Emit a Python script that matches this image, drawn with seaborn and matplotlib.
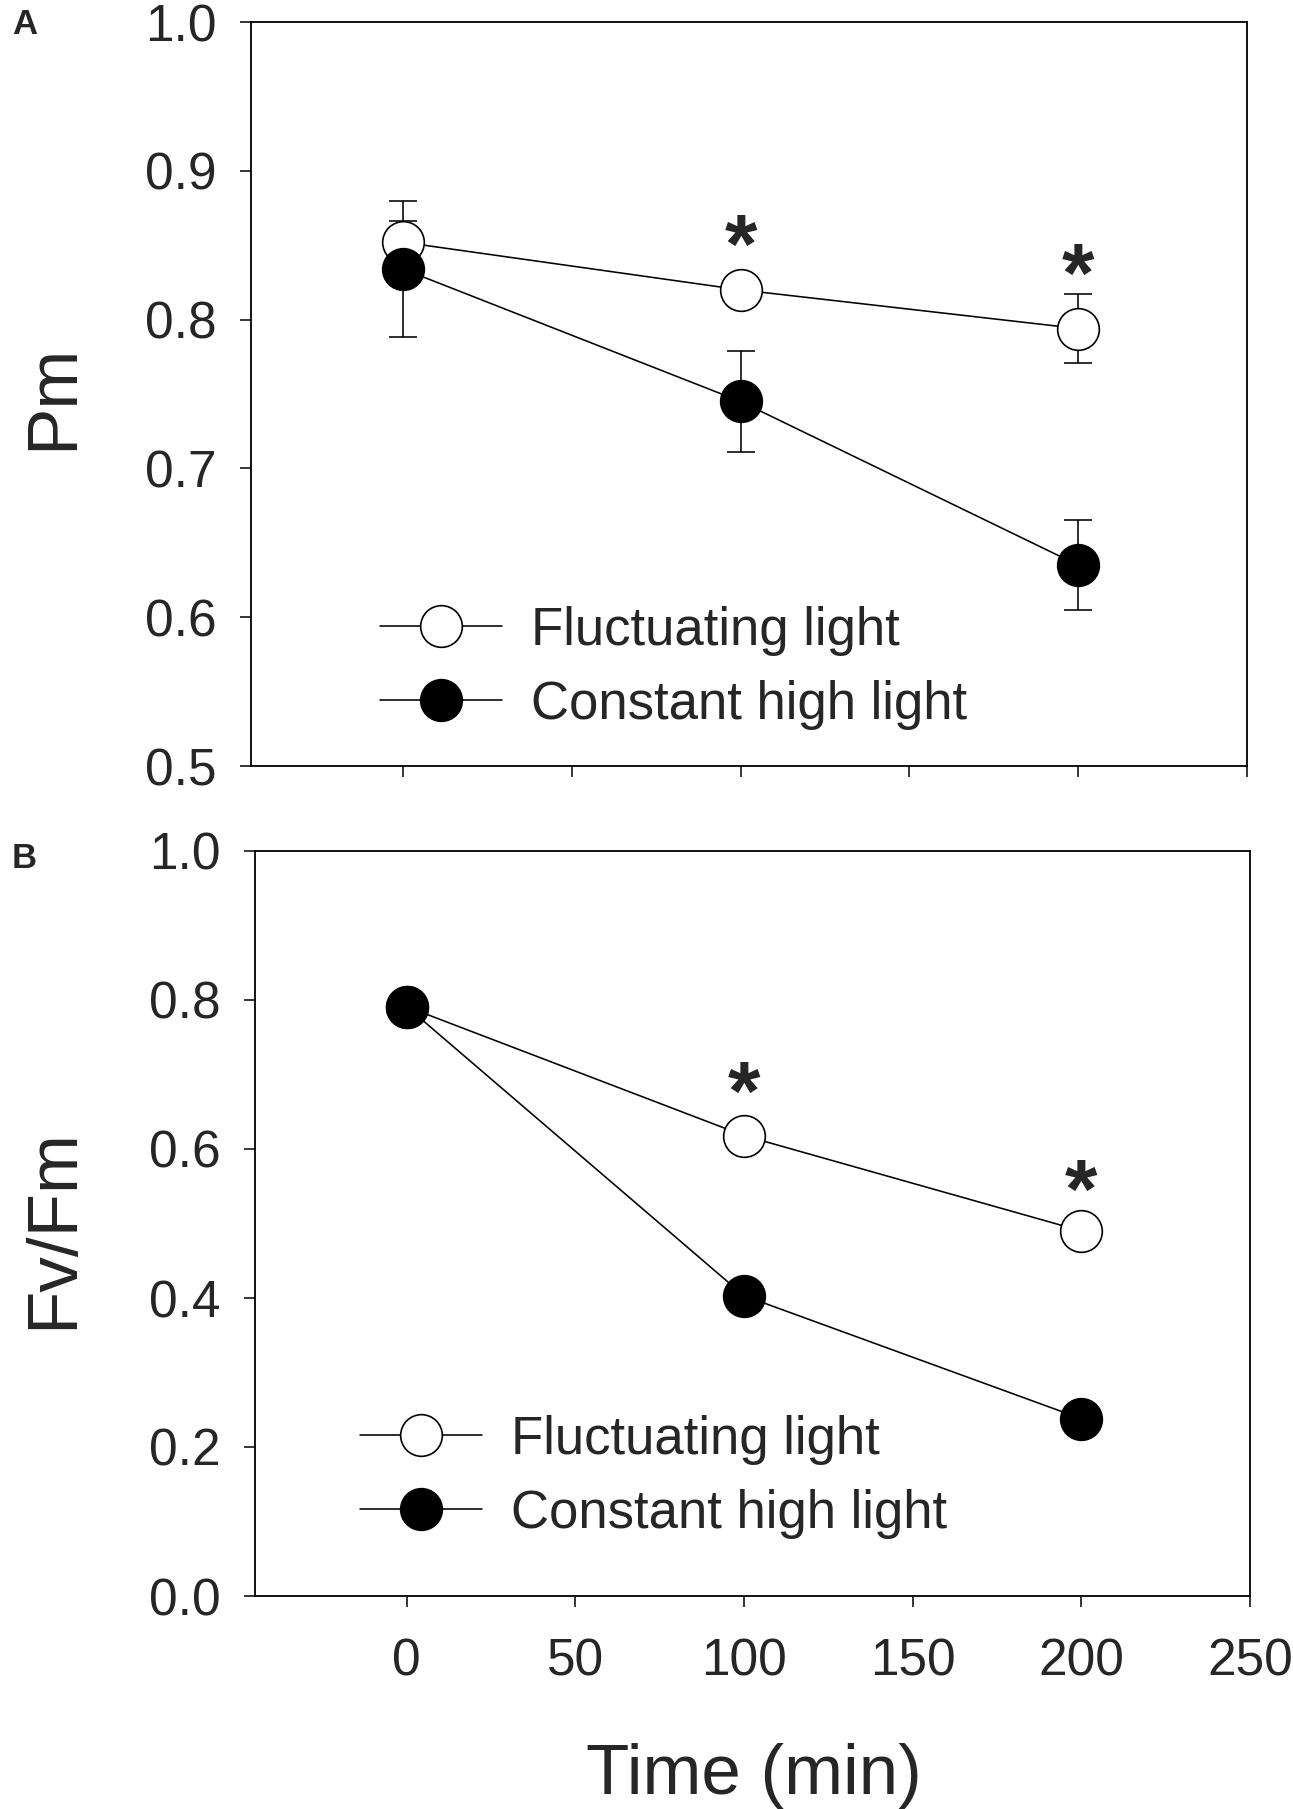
import numpy as np
import pandas as pd
import matplotlib
matplotlib.use("Agg")
import matplotlib.pyplot as plt
import seaborn as sns
from matplotlib.lines import Line2D

# --- data ---
time = [0, 100, 200]

pm_fluct = [0.852, 0.820, 0.794]
pm_fluct_err = [0.014, 0.006, 0.023]
pm_const = [0.834, 0.745, 0.635]
pm_const_err = [0.046, 0.034, 0.030]

fvfm_fluct = [0.791, 0.618, 0.490]
fvfm_const = [0.791, 0.403, 0.238]

# asterisk positions (time, value)
pm_star_x = [100, 200]
pm_star_y = [0.846, 0.827]
fvfm_star_x = [100, 200]
fvfm_star_y = [0.668, 0.537]

series_names = ["Fluctuating light", "Constant high light"]
x_ticks = [0, 50, 100, 150, 200, 250]

sns.set_style("ticks")
plt.rcParams['font.family'] = ['Liberation Sans', 'DejaVu Sans']

W, H = 1293, 1809
fig = plt.figure(figsize=(W / 100, H / 100), dpi=100)
axA = fig.add_axes([251 / W, 1 - 766 / H, (1247 - 251) / W, (766 - 22) / H])
axB = fig.add_axes([255 / W, 1 - 1596 / H, (1250 - 255) / W, (1596 - 851) / H])

ms = 30
lw = 1.15


def draw(ax, fl, co, fl_err=None, co_err=None):
    df = pd.DataFrame({"time": time * 2,
                       "value": list(fl) + list(co),
                       "group": [series_names[0]] * 3 + [series_names[1]] * 3})
    if fl_err is not None:
        ax.errorbar(time, fl, yerr=fl_err, fmt="none", ecolor="black",
                    elinewidth=lw, capsize=10, capthick=lw, zorder=1)
    if co_err is not None:
        ax.errorbar(time, co, yerr=co_err, fmt="none", ecolor="black",
                    elinewidth=lw, capsize=10, capthick=lw, zorder=1)
    sns.lineplot(data=df[df.group == series_names[0]], x="time", y="value",
                 ax=ax, color="black", lw=lw, marker="o", markersize=ms,
                 markerfacecolor="white", markeredgecolor="black",
                 markeredgewidth=1.2, legend=False, zorder=3)
    sns.lineplot(data=df[df.group == series_names[1]], x="time", y="value",
                 ax=ax, color="black", lw=lw, marker="o", markersize=ms,
                 markerfacecolor="black", markeredgecolor="black",
                 markeredgewidth=1.2, legend=False, zorder=4)


draw(axA, pm_fluct, pm_const, pm_fluct_err, pm_const_err)
draw(axB, fvfm_fluct, fvfm_const)

for ax in (axA, axB):
    ax.set_xlim(-45, 250)
    ax.set_xticks(x_ticks)
    ax.set_xlabel("")
    ax.set_ylabel("")
    for s in ax.spines.values():
        s.set_linewidth(1.3)
        s.set_color("black")
    ax.tick_params(direction="out", length=8, width=1.3, labelsize=37,
                   top=False, right=False)
    ax.tick_params(axis="y", pad=17)
    ax.tick_params(axis="x", pad=22)

axA.set_ylim(0.5, 1.0)
axA.set_yticks([0.5, 0.6, 0.7, 0.8, 0.9, 1.0])
axA.set_yticklabels([f"{v:.1f}" for v in axA.get_yticks()])
axA.tick_params(axis="x", labelbottom=False)

axB.set_ylim(0.0, 1.0)
axB.set_yticks([0.0, 0.2, 0.4, 0.6, 0.8, 1.0])
axB.set_yticklabels([f"{v:.1f}" for v in axB.get_yticks()])

for x, y in zip(pm_star_x, pm_star_y):
    axA.text(x, y, "*", ha="center", va="center", fontsize=60, fontweight="bold")
for x, y in zip(fvfm_star_x, fvfm_star_y):
    axB.text(x, y, "*", ha="center", va="center", fontsize=60, fontweight="bold")

handles = [
    Line2D([], [], color="black", lw=lw, marker="o", markersize=ms,
           markerfacecolor="white", markeredgecolor="black", markeredgewidth=1.2),
    Line2D([], [], color="black", lw=lw, marker="o", markersize=ms,
           markerfacecolor="black", markeredgecolor="black", markeredgewidth=1.2),
]
leg_kw = dict(frameon=False, fontsize=38, handlelength=2.3, handletextpad=0.55,
              labelspacing=0.45, borderpad=0, borderaxespad=0, loc="center left")
axA.legend(handles, series_names, bbox_to_anchor=(0.130, 0.132), **leg_kw)
axB.legend(handles, series_names, bbox_to_anchor=(0.106, 0.160), **leg_kw)

fig.text(0.042, 0.7805, "Pm", rotation=90, ha="center", va="center", fontsize=51)
fig.text(0.042, 0.321, "Fv/Fm", rotation=90, ha="center", va="center", fontsize=51)
fig.text(0.583, 0.018, "Time (min)", ha="center", va="center", fontsize=51)
fig.text(12 / W, 1 - 25 / H, "A", ha="left", va="center", fontsize=25, fontweight="bold")
fig.text(12 / W, 1 - 858 / H, "B", ha="left", va="center", fontsize=25, fontweight="bold")

fig.savefig("out.png", dpi=100)
